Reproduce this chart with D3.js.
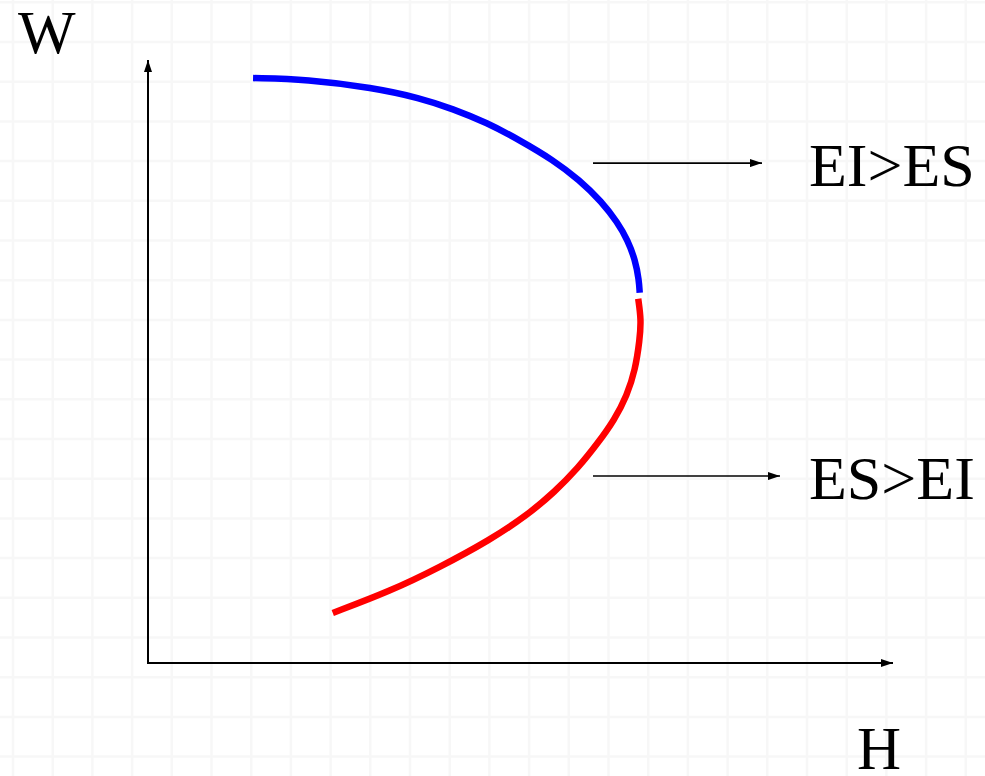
<!DOCTYPE html>
<html>
<head>
<meta charset="utf-8">
<script src="https://cdn.jsdelivr.net/npm/d3@7"></script>
<style>
    html, body { margin: 0; padding: 0; background: #fff; }
    svg { display: block; }
    text { font-family: "Liberation Serif", "Times New Roman", serif; fill: #000; }
</style>
</head>
<body>
<div id="container"><svg></svg></div>
<script>
// upper branch (blue), H vs W
var upperH = [1.41, 2.13, 3.02, 3.65, 4.09, 4.55, 4.99, 5.44, 5.79, 6.09, 6.30, 6.44, 6.54, 6.59, 6.60];
var upperW = [9.70, 9.68, 9.54, 9.37, 9.19, 8.96, 8.67, 8.34, 8.01, 7.65, 7.31, 7.01, 6.68, 6.35, 6.14];
// lower branch (red)
var lowerH = [6.58, 6.62, 6.60, 6.54, 6.43, 6.26, 6.04, 5.77, 5.46, 5.09, 4.59, 3.92, 3.25, 2.48];
var lowerW = [6.04, 5.69, 5.36, 4.86, 4.44, 4.03, 3.65, 3.23, 2.84, 2.45, 2.04, 1.59, 1.19, 0.83];
// region labels and the W level where each pointer sits
var regionLabels = ['EI>ES', 'ES>EI'];
var regionW = [8.29, 3.10];
var axisLabels = ['H', 'W'];

var width = 985, height = 776;

function main() {
    var svg = d3.select('#container svg')
        .attr('width', width)
        .attr('height', height);

    var x = d3.scaleLinear().domain([0, 10]).range([148, 893]);
    var y = d3.scaleLinear().domain([0, 10]).range([663, 60]);

    // faint background grid
    var grid = svg.append('g').attr('stroke', '#f7f7f7').attr('stroke-width', 2.5);
    grid.selectAll('line.v')
        .data(d3.range(13, width, 39.7))
        .join('line')
        .attr('x1', function(d) { return d; })
        .attr('x2', function(d) { return d; })
        .attr('y1', 0)
        .attr('y2', height);
    grid.selectAll('line.h')
        .data(d3.range(2.3, height, 39.7))
        .join('line')
        .attr('y1', function(d) { return d; })
        .attr('y2', function(d) { return d; })
        .attr('x1', 0)
        .attr('x2', width);

    var defs = svg.append('defs');
    defs.append('marker')
        .attr('id', 'head')
        .attr('viewBox', '0 0 12 8')
        .attr('refX', 12).attr('refY', 4)
        .attr('markerWidth', 12).attr('markerHeight', 8)
        .attr('markerUnits', 'userSpaceOnUse')
        .attr('orient', 'auto')
        .append('path').attr('d', 'M0,0L12,4L0,8Z').attr('fill', '#000');

    // axes
    svg.append('line')
        .attr('x1', x(0)).attr('y1', y(0))
        .attr('x2', x(0)).attr('y2', y(10))
        .attr('stroke', '#000').attr('stroke-width', 2)
        .attr('marker-end', 'url(#head)');
    svg.append('line')
        .attr('x1', x(0) - 1).attr('y1', y(0))
        .attr('x2', x(10)).attr('y2', y(0))
        .attr('stroke', '#000').attr('stroke-width', 2)
        .attr('marker-end', 'url(#head)');

    svg.append('text')
        .attr('x', x(10) - 36).attr('y', 769)
        .attr('font-size', 61)
        .text(axisLabels[0]);
    svg.append('text')
        .attr('x', 18).attr('y', 53)
        .attr('font-size', 61)
        .text(axisLabels[1]);

    // basis smoothing irons out small reading errors in the points
    var line = d3.line()
        .x(function(d) { return x(d[0]); })
        .y(function(d) { return y(d[1]); })
        .curve(d3.curveBasis);

    svg.append('path')
        .datum(d3.zip(upperH, upperW))
        .attr('d', line)
        .attr('fill', 'none')
        .attr('stroke', '#0000ff')
        .attr('stroke-width', 6.5);
    svg.append('path')
        .datum(d3.zip(lowerH, lowerW))
        .attr('d', line)
        .attr('fill', 'none')
        .attr('stroke', '#ff0000')
        .attr('stroke-width', 6.5);

    // pointers to region labels
    var ptrEnd = [762, 780];
    regionLabels.forEach(function(lbl, i) {
        var py = y(regionW[i]);
        svg.append('line')
            .attr('x1', 593).attr('y1', py)
            .attr('x2', ptrEnd[i]).attr('y2', py)
            .attr('stroke', '#000').attr('stroke-width', 1.6)
            .attr('marker-end', 'url(#head)');
        svg.append('text')
            .attr('x', 809).attr('y', py + 23)
            .attr('font-size', 62)
            .text(lbl);
    });
}

main();
</script>
</body>
</html>
